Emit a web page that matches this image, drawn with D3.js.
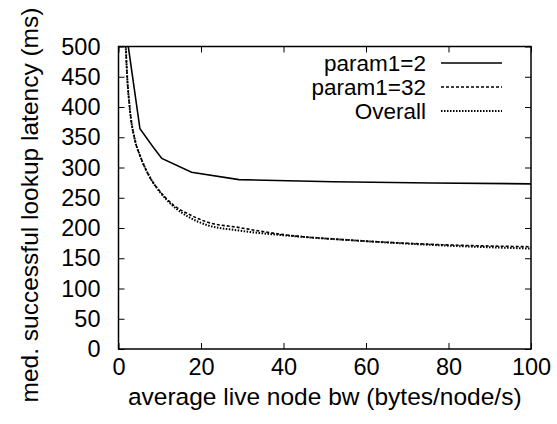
<!DOCTYPE html>
<html>
<head>
<meta charset="utf-8">
<script src="https://cdn.jsdelivr.net/npm/d3@7"></script>
<style>
  body { margin: 0; background: #fff; }
  svg text { font-family: "Liberation Sans", Arial, sans-serif; fill: #000; }
</style>
</head>
<body>
<div class="content"></div>
<script>
// values
var seriesNames = ['param1=2', 'param1=32', 'Overall'];
var bw2 =  [2, 5.2, 8.8, 10.5, 17.7, 29.2, 52, 76, 100];
var lat2 = [518, 364, 330, 315, 292, 280, 276.5, 274.5, 273];
var bw32 =  [1.75, 2.06, 2.7, 4, 5.2, 7.6, 10.1, 13.3, 17.3, 21.4, 29, 40, 56, 76, 100];
var lat32 = [502, 456, 400, 345, 320, 284, 260, 238, 222, 210, 201, 189, 180, 173, 169];
var bwAll =  [1.75, 2.06, 2.7, 4, 5.2, 7.6, 10.1, 13.3, 17.3, 21.4, 29, 40, 56, 76, 100];
var latAll = [502, 456, 400, 345, 320, 284, 259, 236, 217, 205, 196, 188, 180, 172, 166];
var xTicks = [0, 20, 40, 60, 80, 100];
var yTicks = [0, 50, 100, 150, 200, 250, 300, 350, 400, 450, 500];

var W = 557, H = 424;
var m = {left: 118.5, right: 531, top: 46.5, bottom: 349};
var fontSize = '23.5px';
var titleSize = '24.5px';

var svg = d3.select('.content').append('svg')
    .attr('width', W)
    .attr('height', H);

var x = d3.scaleLinear().domain([0, 100]).range([m.left, m.right]);
var y = d3.scaleLinear().domain([0, 500]).range([m.bottom, m.top]);

svg.append('clipPath').attr('id', 'clip')
  .append('rect')
    .attr('x', m.left).attr('y', m.top)
    .attr('width', m.right - m.left).attr('height', m.bottom - m.top);

// axes, ticks point inward and are mirrored
var tickLen = 6;
function styleAxis(g) {
    g.select('.domain').remove();
    g.selectAll('line').attr('stroke', '#000').attr('stroke-width', 1);
    g.selectAll('text').style('font-size', fontSize);
}
svg.append('g')
    .attr('transform', 'translate(0,' + m.bottom + ')')
    .call(d3.axisBottom(x).tickValues(xTicks).tickSize(-tickLen).tickPadding(9))
    .call(styleAxis);
svg.append('g')
    .attr('transform', 'translate(0,' + m.top + ')')
    .call(d3.axisTop(x).tickValues(xTicks).tickSize(-tickLen).tickFormat(''))
    .call(styleAxis);
svg.append('g')
    .attr('transform', 'translate(' + m.left + ',0)')
    .call(d3.axisLeft(y).tickValues(yTicks).tickSize(-tickLen).tickPadding(18))
    .call(styleAxis);
svg.append('g')
    .attr('transform', 'translate(' + m.right + ',0)')
    .call(d3.axisRight(y).tickValues(yTicks).tickSize(-tickLen).tickFormat(''))
    .call(styleAxis);

svg.append('rect')
    .attr('x', m.left).attr('y', m.top)
    .attr('width', m.right - m.left).attr('height', m.bottom - m.top)
    .attr('fill', 'none').attr('stroke', '#000').attr('stroke-width', 1.5);

svg.append('text')
    .attr('x', (m.left + m.right) / 2)
    .attr('y', 405)
    .attr('text-anchor', 'middle')
    .style('font-size', titleSize)
    .text('average live node bw (bytes/node/s)');
svg.append('text')
    .attr('transform', 'translate(38,205) rotate(-90)')
    .attr('text-anchor', 'middle')
    .style('font-size', titleSize)
    .text('med. successful lookup latency (ms)');

// series
var series = [
    {name: seriesNames[0], xs: bw2, ys: lat2, dash: null, width: 1.6, curve: d3.curveLinear},
    {name: seriesNames[1], xs: bw32, ys: lat32, dash: '3,2', width: 1.6, curve: d3.curveMonotoneX},
    {name: seriesNames[2], xs: bwAll, ys: latAll, dash: '1.5,1.5', width: 2, curve: d3.curveMonotoneX}
];

var plot = svg.append('g').attr('clip-path', 'url(#clip)');
series.forEach(function(s) {
    var pts = s.xs.map(function(v, i) { return [v, s.ys[i]]; });
    var line = d3.line()
        .x(function(d) { return x(d[0]); })
        .y(function(d) { return y(d[1]); })
        .curve(s.curve);
    plot.append('path')
        .attr('d', line(pts))
        .attr('fill', 'none')
        .attr('stroke', '#000')
        .attr('stroke-width', s.width)
        .attr('stroke-dasharray', s.dash);
});

// legend
var legend = svg.append('g');
series.forEach(function(s, i) {
    var ly = 63 + i * 24;
    legend.append('text')
        .attr('x', 426)
        .attr('y', ly + 8)
        .attr('text-anchor', 'end')
        .style('font-size', '22.5px')
        .text(s.name);
    legend.append('line')
        .attr('x1', 441).attr('x2', 502)
        .attr('y1', ly).attr('y2', ly)
        .attr('stroke', '#000')
        .attr('stroke-width', s.width)
        .attr('stroke-dasharray', s.dash);
});
</script>
</body>
</html>
